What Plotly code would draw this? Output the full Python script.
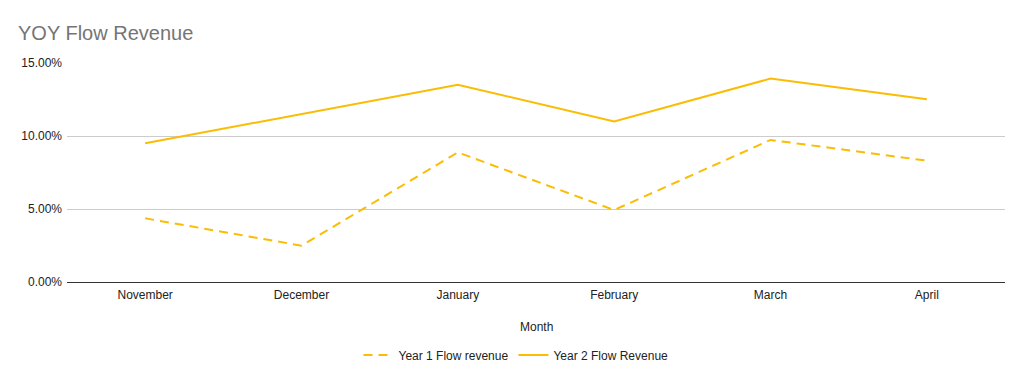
import plotly.graph_objects as go

months = ["November", "December", "January", "February", "March", "April"]
year1 = [0.0436, 0.0249, 0.0888, 0.0493, 0.0973, 0.0831]
year2 = [0.0950, 0.1150, 0.1351, 0.1100, 0.1393, 0.1251]
y_ticks = [0, 0.05, 0.10, 0.15]

color = "#FBBC04"
font = "Liberation Sans, Arial, sans-serif"

# page body has an 8px margin: figure sits at (8, 8)
W, H = 1008, 366
L, R, T, B = 59, 11, 55, 92
PH = H - T - B
PW = W - L - R

fig = go.Figure()
fig.add_trace(go.Scatter(x=months, y=year1, mode="lines", name="Year 1 Flow revenue",
                         line=dict(color=color, width=2, dash="9px,6px")))
fig.add_trace(go.Scatter(x=months, y=year2, mode="lines", name="Year 2 Flow Revenue",
                         line=dict(color=color, width=2)))

fig.update_layout(
    width=W, height=H,
    margin=dict(l=L, r=R, t=T, b=B, autoexpand=False),
    paper_bgcolor="white", plot_bgcolor="white",
    font=dict(family=font, size=12, color="#222222"),
    title=dict(text="YOY Flow Revenue", x=10 / W, xref="container", xanchor="left",
               y=1 - 25 / H, yref="container", yanchor="middle",
               font=dict(family=font, size=20, color="#757575")),
    showlegend=True,
    legend=dict(orientation="h", x=0.5 - 20 / PW, xanchor="center",
                y=(274 - 347) / PH, yanchor="middle",
                font=dict(size=12, color="#222222")),
    hovermode=False,
)

fig.update_xaxes(type="category", range=[-0.5, 5.5], showgrid=False, zeroline=False,
                 showline=False, ticks="", ticklabelstandoff=4,
                 tickfont=dict(size=12, color="#222222"))
fig.update_yaxes(range=[0, 0.15], tickvals=y_ticks, tickformat=".2%",
                 showgrid=True, gridcolor="#cccccc", gridwidth=1,
                 zeroline=True, zerolinecolor="#333333", zerolinewidth=1,
                 showline=False, ticks="", ticklabelstandoff=4,
                 tickfont=dict(size=12, color="#222222"))
fig.add_annotation(text="Month", x=0.5, xref="paper", y=(274 - 319) / PH, yref="paper",
                   showarrow=False, font=dict(size=12, color="#222222"), yanchor="middle")

fig.write_html("out.html")
